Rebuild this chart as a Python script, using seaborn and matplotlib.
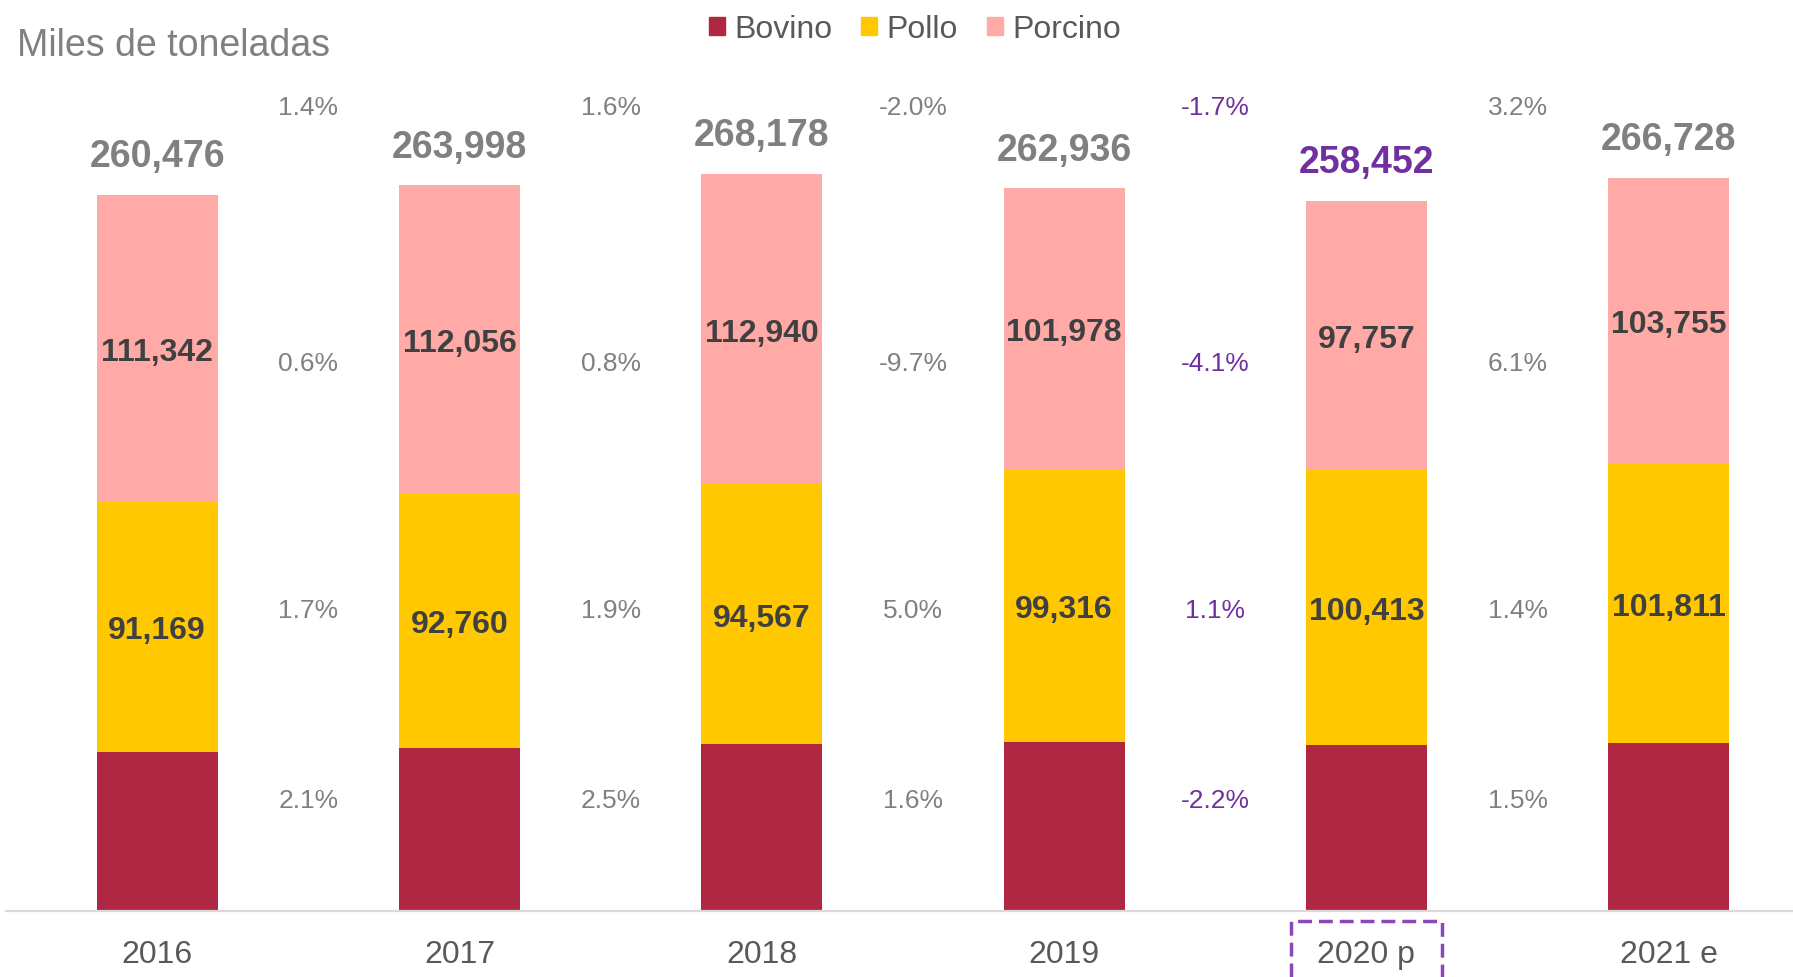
import numpy as np
import pandas as pd
import matplotlib
matplotlib.use("Agg")
import matplotlib.pyplot as plt
import matplotlib.transforms as mtransforms
from matplotlib.patches import Patch, Rectangle
import seaborn as sns

# -----------------------------
# DATA (miles de toneladas)
# -----------------------------
years = ["2016", "2017", "2018", "2019", "2020 p", "2021 e"]
bovino = [57965, 59182, 60671, 61642, 60282, 61162]
pollo = [91169, 92760, 94567, 99316, 100413, 101811]
porcino = [111342, 112056, 112940, 101978, 97757, 103755]
totals = [260476, 263998, 268178, 262936, 258452, 266728]

# growth vs previous year (columns between bars)
pct_total = ["1.4%", "1.6%", "-2.0%", "-1.7%", "3.2%"]
pct_porcino = ["0.6%", "0.8%", "-9.7%", "-4.1%", "6.1%"]
pct_pollo = ["1.7%", "1.9%", "5.0%", "1.1%", "1.4%"]
pct_bovino = ["2.1%", "2.5%", "1.6%", "-2.2%", "1.5%"]

# -----------------------------
# STYLE
# -----------------------------
c_bovino = "#B02744"
c_pollo = "#FFC800"
c_porcino = "#FFAAA7"
gray = "#808080"
dark = "#595959"
purple = "#7030A0"
highlight = 4  # 2020 p

sns.set_theme(style="white")
plt.rcParams["font.family"] = ["Liberation Sans", "DejaVu Sans"]

df = pd.DataFrame({"anio": years, "bovino": bovino, "pollo": pollo, "porcino": porcino})
df["bov_pol"] = df["bovino"] + df["pollo"]
df["tope"] = df["bov_pol"] + df["porcino"]

fig = plt.figure(figsize=(17.93, 9.78), dpi=100)
ax = fig.add_axes([6 / 1793, 66 / 978, 1 - 6 / 1793, 912 / 978])

# stacked bars drawn back to front
sns.barplot(data=df, x="anio", y="tope", color=c_porcino, width=0.4,
            saturation=1, errorbar=None, linewidth=0, ax=ax)
sns.barplot(data=df, x="anio", y="bov_pol", color=c_pollo, width=0.4,
            saturation=1, errorbar=None, linewidth=0, ax=ax)
sns.barplot(data=df, x="anio", y="bovino", color=c_bovino, width=0.4,
            saturation=1, errorbar=None, linewidth=0, ax=ax)

ax.set_xlim(-0.5, 5.411)
ax.set_ylim(0, 331860)
ax.set_xlabel("")
ax.set_ylabel("")
ax.set_yticks([])
for s in ["top", "left", "right"]:
    ax.spines[s].set_visible(False)
ax.spines["bottom"].set_color("#D9D9D9")
ax.spines["bottom"].set_linewidth(1.6)
ax.tick_params(axis="x", length=0, pad=20, labelsize=23, labelcolor=dark)

# segment labels
for i in range(len(years)):
    ax.text(i, bovino[i] + pollo[i] / 2, f"{pollo[i]:,}", ha="center",
            va="center_baseline", fontsize=23, fontweight="bold", color="#404040")
    ax.text(i, bovino[i] + pollo[i] + porcino[i] / 2, f"{porcino[i]:,}", ha="center",
            va="center_baseline", fontsize=23, fontweight="bold", color="#404040")
    ax.annotate(f"{totals[i]:,}", xy=(i, df["tope"][i]), xytext=(0, 28),
                textcoords="offset points", ha="center", va="center",
                fontsize=27, fontweight="bold",
                color=purple if i == highlight else gray)

# growth columns
trans = mtransforms.blended_transform_factory(ax.transData, ax.transAxes)
rows = [(0.882, pct_total), (0.601, pct_porcino), (0.330, pct_pollo), (0.122, pct_bovino)]
for yy, vals in rows:
    for j, v in enumerate(vals):
        ax.text(j + 0.5, yy, v, transform=trans, ha="center", va="center",
                fontsize=19, color=purple if j + 1 == highlight else gray)

# dashed box around the preliminary year
box = Rectangle((highlight - 0.25, -0.2), 0.5, 0.189, transform=trans,
                fill=False, edgecolor="#8A48B8", linestyle=(0, (4, 2)),
                linewidth=2.5, clip_on=False)
ax.add_patch(box)

fig.text(17 / 1793, 1 - 46 / 978, "Miles de toneladas", ha="left", va="center",
         fontsize=27, color=gray)

handles = [Patch(color=c_bovino, label="Bovino"),
           Patch(color=c_pollo, label="Pollo"),
           Patch(color=c_porcino, label="Porcino")]
fig.legend(handles=handles, loc="center", bbox_to_anchor=(915 / 1793, 1 - 30 / 978),
           ncol=3, frameon=False, fontsize=23, handlelength=0.5, handleheight=0.5,
           handletextpad=0.3, columnspacing=0.9, labelcolor=dark)

fig.savefig("out.png", dpi=100, facecolor="white")
